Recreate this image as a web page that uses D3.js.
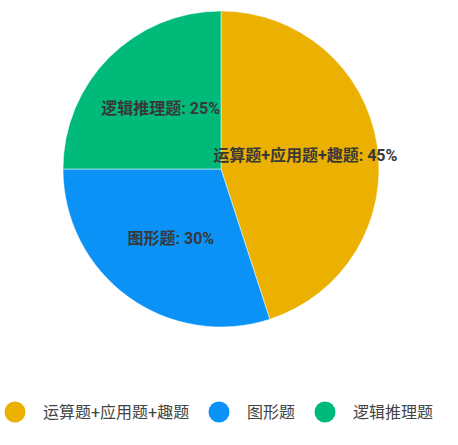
<!DOCTYPE html>
<html>
<head>
<meta charset="utf-8">
<script src="https://cdn.jsdelivr.net/npm/d3@7"></script>
<style>
  body { margin: 0; background: #fff; }
  svg { display: block; }
  text { font-family: Roboto, "Noto Sans CJK SC", sans-serif; }
</style>
</head>
<body>
<svg id="chart"></svg>
<script>
// chart data
const categories = ['运算题+应用题+趣题', '图形题', '逻辑推理题'];
const values = [45, 30, 25];
const colors = ['#EBB000', '#0A92F7', '#00BA7A'];

const width = 458, height = 445;
const cx = 221, cy = 169, radius = 158;

const svg = d3.select('#chart')
    .attr('width', width)
    .attr('height', height);

const data = categories.map((c, i) => ({ name: c, value: values[i], color: colors[i] }));

const pie = d3.pie().sort(null).value(d => d.value);
const arc = d3.arc().innerRadius(0).outerRadius(radius);
const labelArc = d3.arc().innerRadius(radius * 0.54).outerRadius(radius * 0.54);

const g = svg.append('g').attr('transform', `translate(${cx},${cy})`);
const arcs = pie(data);

g.selectAll('path')
    .data(arcs)
    .enter()
    .append('path')
    .attr('d', arc)
    .attr('fill', d => d.data.color)
    .attr('stroke', '#fff')
    .attr('stroke-width', 0.5);

g.selectAll('text.lbl')
    .data(arcs)
    .enter()
    .append('text')
    .attr('class', 'lbl')
    .attr('transform', d => `translate(${labelArc.centroid(d)})`)
    .attr('text-anchor', 'middle')
    .attr('dy', '0.35em')
    .attr('font-size', 16)
    .attr('font-weight', 'bold')
    .attr('fill', '#383838')
    .text(d => `${d.data.name}: ${d.data.value}%`);

// legend
const legendX = [15, 219, 325];
const legend = svg.append('g').attr('transform', 'translate(0,412)');
const items = legend.selectAll('g')
    .data(data)
    .enter()
    .append('g')
    .attr('transform', (d, i) => `translate(${legendX[i]},0)`);

items.append('circle')
    .attr('r', 10.5)
    .attr('fill', d => d.color);

items.append('text')
    .attr('x', 28)
    .attr('dy', '0.35em')
    .attr('font-size', 16)
    .attr('fill', '#444')
    .text(d => d.name);
</script>
</body>
</html>
